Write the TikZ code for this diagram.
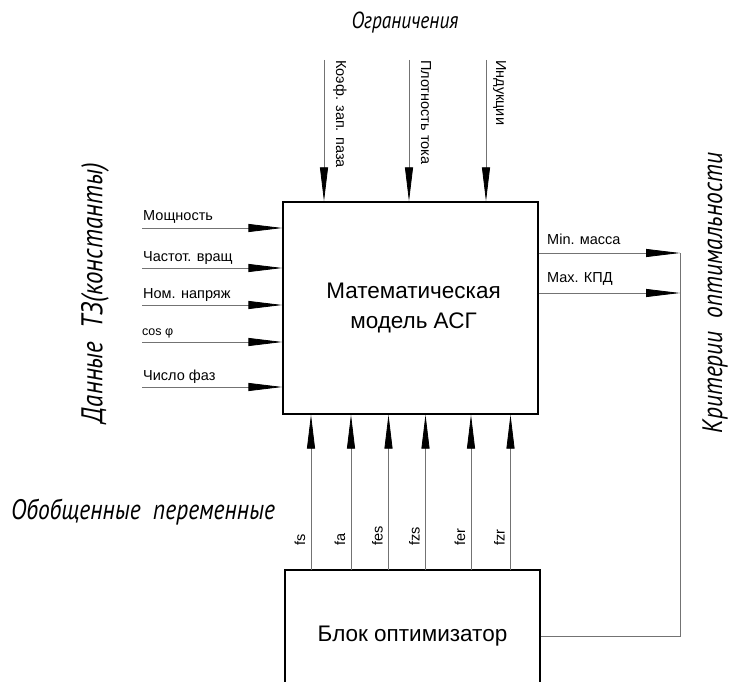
\documentclass[tikz,border=0pt]{standalone}
\usepackage{fontspec}
\usepackage{graphicx}
\setmainfont{Liberation Sans}
\newfontfamily\gostf{PT Sans}
\usetikzlibrary{arrows.meta}
\newcommand\gst[2]{\resizebox{#1}{!}{\fontsize{20}{24}\selectfont\gostf\itshape\scalebox{1}[1.2]{#2}}}
\tikzset{
  blk/.style={draw=black, line width=1.3pt, rectangle, inner sep=0pt},
  conn/.style={draw=black!55, line width=0.8pt},
  arr/.style={conn, -{Triangle[length=34pt,width=8pt,color=black]}},
  lbl/.style={font=\fontsize{14.5}{17}\selectfont, inner sep=0pt},
  big/.style={font=\fontsize{22.5}{29.5}\selectfont, align=center},
  head/.style={inner sep=0pt},
}
\begin{document}
\begin{tikzpicture}[x=1pt,y=-1pt]
\useasboundingbox (0,0) rectangle (732,682);
\clip (0,0) rectangle (732,682);
% boxes
\node[blk, big, minimum width=255pt, minimum height=212pt] (M) at (410.5,308) {\hspace*{6pt}Математическая\\\hspace*{6pt}модель АСГ};
\node[blk, big, minimum width=255pt, minimum height=132pt] (B) at (412.5,636) {Блок оптимизатор};
% headings
\node[head] (h1) at (405,23) {\gst{107pt}{Ограничения}};
\node[head] (h2) at (143,512) {\gst{264pt}{Обобщенные\ \ переменные}};
\node[head, rotate=90] (h3) at (95,293) {\gst{260pt}{Данные\ \ ТЗ(константы)}};
\node[head, rotate=90] (h4) at (715,293) {\gst{280pt}{Критерии\ \ оптимальности}};
% left inputs
\coordinate (i1) at (142,228);
\coordinate (i2) at (142,268);
\coordinate (i3) at (142,305);
\coordinate (i4) at (142,342);
\coordinate (i5) at (142,387);
\foreach \c in {i1,i2,i3,i4,i5} \draw[arr] (\c) -- (\c -| M.west);
\node[lbl, anchor=base west] (li1) at (143,221) {Мощность};
\node[lbl, anchor=base west] (li2) at (143,261.5) {Частот. вращ};
\node[lbl, anchor=base west] (li3) at (143,298.5) {Ном. напряж};
\node[lbl, anchor=base west, font=\fontsize{12.5}{15}\selectfont] (li4) at (142,335) {cos φ};
\node[lbl, anchor=base west] (li5) at (143,380.5) {Число фаз};
% top inputs
\coordinate (t1) at (324,60);
\coordinate (t2) at (409,60);
\coordinate (t3) at (486,60);
\foreach \c in {t1,t2,t3} \draw[arr] (\c) -- (\c |- M.north);
\node[lbl, rotate=-90, anchor=base west] (lt1) at (336,60) {Коэф. зап. паза};
\node[lbl, rotate=-90, anchor=base west] (lt2) at (421,60) {Плотность тока};
\node[lbl, rotate=-90, anchor=base west] (lt3) at (496,60) {Индукции};
% bottom variables
\coordinate (f1) at (311,570);
\coordinate (f2) at (351,570);
\coordinate (f3) at (388.5,570);
\coordinate (f4) at (425.5,570);
\coordinate (f5) at (471,570);
\coordinate (f6) at (510.5,570);
\foreach \c in {f1,f2,f3,f4,f5,f6} \draw[arr] (\c) -- (\c |- M.south);
\node[lbl, rotate=90, anchor=base west] (lf1) at (305,546) {fs};
\node[lbl, rotate=90, anchor=base west] (lf2) at (345,546) {fa};
\node[lbl, rotate=90, anchor=base west] (lf3) at (382.5,546) {fes};
\node[lbl, rotate=90, anchor=base west] (lf4) at (419.5,546) {fzs};
\node[lbl, rotate=90, anchor=base west] (lf5) at (465,546) {fer};
\node[lbl, rotate=90, anchor=base west] (lf6) at (504.5,546) {fzr};
% outputs
\coordinate (k1) at (680,253);
\coordinate (k2) at (680,293);
\draw[arr] (k1 -| M.east) -- (k1);
\draw[arr] (k2 -| M.east) -- (k2);
\node[lbl, anchor=base west] (lk1) at (547,244) {Min. масса};
\node[lbl, anchor=base west] (lk2) at (547,283) {Max. КПД};
\draw[conn] (B.east) -| (k1);
\end{tikzpicture}
\end{document}
